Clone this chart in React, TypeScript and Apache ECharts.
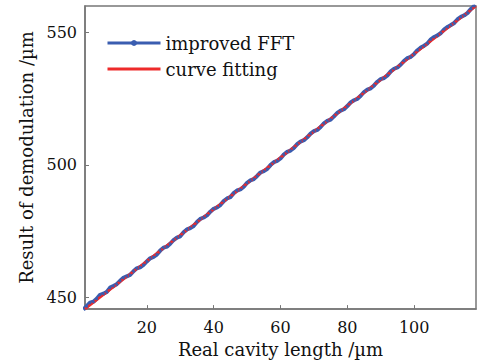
import React, { useEffect, useRef } from "react";
import * as echarts from "echarts";

// Real cavity length (µm) and the demodulated result from the improved FFT method
const cavityLength = [
  1, 2, 3, 4, 5, 6, 7, 8, 9, 10, 11, 12, 13, 14, 15, 16, 17, 18, 19, 20,
  21, 22, 23, 24, 25, 26, 27, 28, 29, 30, 31, 32, 33, 34, 35, 36, 37, 38, 39, 40,
  41, 42, 43, 44, 45, 46, 47, 48, 49, 50, 51, 52, 53, 54, 55, 56, 57, 58, 59, 60,
  61, 62, 63, 64, 65, 66, 67, 68, 69, 70, 71, 72, 73, 74, 75, 76, 77, 78, 79, 80,
  81, 82, 83, 84, 85, 86, 87, 88, 89, 90, 91, 92, 93, 94, 95, 96, 97, 98, 99, 100,
  101, 102, 103, 104, 105, 106, 107, 108, 109, 110, 111, 112, 113, 114, 115, 116, 117, 118,
];
const improvedFFT = [
  445.3, 446.6, 447.9, 448.3, 449.4, 450.9, 451.3, 452.0, 453.6, 454.2,
  454.9, 456.2, 457.3, 457.9, 458.4, 459.8, 460.9, 461.3, 462.2, 463.5,
  464.7, 465.2, 466.1, 467.6, 468.7, 469.1, 470.2, 471.6, 472.5, 473.0,
  474.5, 475.6, 476.1, 476.9, 478.4, 479.6, 480.1, 480.9, 482.3, 483.4,
  483.9, 484.8, 486.3, 487.3, 487.8, 489.3, 490.3, 490.7, 491.7, 493.2,
  494.1, 494.6, 495.8, 497.1, 497.6, 498.4, 499.9, 501.0, 501.5, 502.4,
  503.9, 504.9, 505.4, 506.4, 507.8, 508.8, 509.3, 510.4, 511.8, 512.7,
  513.2, 514.3, 515.7, 516.6, 517.1, 518.3, 519.6, 520.5, 521.0, 522.2,
  523.6, 524.4, 524.9, 526.1, 527.5, 528.4, 528.9, 530.0, 531.4, 532.4,
  532.8, 533.8, 535.3, 536.3, 536.8, 537.9, 539.3, 540.3, 540.8, 541.9,
  543.3, 544.3, 545.0, 545.9, 547.4, 548.3, 548.9, 549.8, 551.2, 552.1,
  552.8, 553.6, 555.0, 555.9, 556.5, 557.4, 558.9, 560.0,
];

// Linear fit endpoints
const fitX = [1.5, 118.5];
const fitY = [445.5, 560.0];

const xTicks = [20, 40, 60, 80, 100];
const yTicks = [450, 500, 550];

const FONT = "DejaVu Serif";

export default function App() {
  const ref = useRef<HTMLDivElement>(null);

  useEffect(() => {
    if (!ref.current) return;
    document.body.style.margin = "0";
    const chart = echarts.init(ref.current, null, { renderer: "svg" });
    const axisColor = "#777777";
    chart.setOption({
      animation: false,
      backgroundColor: "#ffffff",
      grid: {
        left: 85,
        right: 12,
        top: 6,
        bottom: 52,
        show: true,
        borderColor: axisColor,
        borderWidth: 1.5,
      },
      legend: {
        left: 101,
        top: 29,
        orient: "vertical",
        itemWidth: 53,
        itemHeight: 7.5,
        itemGap: 8,
        lineStyle: { width: 3 },
        textStyle: { fontFamily: FONT, fontSize: 18, color: "#111" },
        data: [
          { name: "improved FFT" },
          { name: "curve fitting", itemStyle: { opacity: 0 } },
        ],
      },
      xAxis: {
        type: "value",
        min: 1.5,
        max: 118.5,
        name: "Real cavity length /µm",
        nameLocation: "middle",
        nameGap: 29,
        nameTextStyle: { fontFamily: FONT, fontSize: 18, color: "#111" },
        axisLine: { lineStyle: { color: axisColor, width: 1.5 } },
        axisTick: {
          inside: true,
          length: 4,
          customValues: xTicks,
          lineStyle: { color: axisColor },
        },
        axisLabel: {
          customValues: xTicks,
          margin: 10,
          fontFamily: FONT,
          fontSize: 16,
          color: "#111",
        },
        splitLine: { show: false },
      },
      yAxis: {
        type: "value",
        min: 445.5,
        max: 560,
        name: "Result of demodulation /µm",
        nameLocation: "middle",
        nameGap: 50,
        nameTextStyle: { fontFamily: FONT, fontSize: 18, color: "#111" },
        axisLine: { lineStyle: { color: axisColor, width: 1.5 } },
        axisTick: {
          inside: true,
          length: 4,
          customValues: yTicks,
          lineStyle: { color: axisColor },
        },
        axisLabel: {
          customValues: yTicks,
          margin: 8,
          fontFamily: FONT,
          fontSize: 16,
          color: "#111",
        },
        splitLine: { show: false },
      },
      series: [
        {
          name: "improved FFT",
          type: "line",
          data: cavityLength.map((x, i) => [x, improvedFFT[i]]),
          symbol: "circle",
          symbolSize: 3,
          showSymbol: true,
          itemStyle: { color: "#3a5db0" },
          lineStyle: { color: "#3a5db0", width: 4 },
        },
        {
          name: "curve fitting",
          type: "line",
          data: fitX.map((x, i) => [x, fitY[i]]),
          symbol: "none",
          itemStyle: { color: "#ee2a2a" },
          lineStyle: { color: "#ee2a2a", width: 2.5 },
        },
      ],
    });
    return () => chart.dispose();
  }, []);

  return <div ref={ref} style={{ width: 488, height: 363 }} />;
}
